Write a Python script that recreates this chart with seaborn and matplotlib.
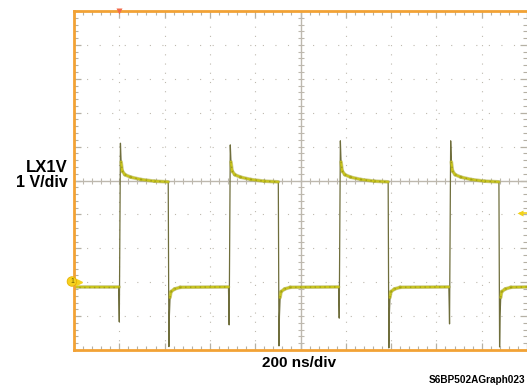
import numpy as np
import pandas as pd
import matplotlib
matplotlib.use("Agg")
import matplotlib.pyplot as plt
from matplotlib.ticker import MultipleLocator
import seaborn as sns

# ---- switch-node waveform (LX1V), 200 ns/div, 1 V/div ----
rise_ns = [205, 690, 1176, 1663]          # rising edges
fall_ns = [418, 904, 1389, 1878]          # falling edges
peak_v = [4.10, 4.05, 4.17, 4.17]         # overshoot on each rising edge
dip_v = [-1.17, -1.26, -1.06, -1.23]      # dead-time dip just before each rise
undershoot_v = [-1.90, -1.88, -1.94, -1.91]  # ringing on each falling edge
low_v = -0.14                             # low-side conduction level
high_end_v = 2.96                         # high level just before the fall

# settling after the rising edge: offset from edge (ns) / level (V)
settle_dt = [3, 8, 20, 45, 90, 150]
settle_v = [3.55, 3.28, 3.17, 3.10, 3.03, 2.98]
# recovery after the falling edge
recover_dt = [2, 5, 9, 25, 50]
recover_v = [-1.00, -0.45, -0.28, -0.20, -0.15]

t_span = 2000          # 10 div x 200 ns
v_low, v_high = -2, 8  # 10 div x 1 V, ground 2 div above bottom
trig_t = 200
trig_level = 2.04

# assemble the trace from the edge data
t, v = [0.0], [low_v]
for r, f, pk, dp, us in zip(rise_ns, fall_ns, peak_v, dip_v, undershoot_v):
    t += [r - 8, r - 5, r]
    v += [low_v, dp, pk]
    for dt, sv in zip(settle_dt, settle_v):
        t.append(r + dt); v.append(sv)
    t += [f - 2, f + 1]
    v += [high_end_v, us]
    for dt, rv in zip(recover_dt, recover_v):
        t.append(f + 1 + dt); v.append(rv)
t.append(t_span); v.append(low_v)
trace = pd.DataFrame({"t": t, "v": v})

# slow (flat) segments get the bright, thick phosphor look
flat_rows = []
for i in range(1, len(t)):
    slope = abs(v[i] - v[i - 1]) / max(t[i] - t[i - 1], 1e-9)
    if slope <= 0.08:
        flat_rows.append((t[i - 1], v[i - 1], i))
        flat_rows.append((t[i], v[i], i))
flat_df = pd.DataFrame(flat_rows, columns=["t", "v", "unit"])

sns.set_theme(style="white")
plt.rcParams["font.family"] = ["Liberation Sans", "DejaVu Sans"]

fig = plt.figure(figsize=(5.27, 3.88), dpi=100)
ax = fig.add_axes([74 / 527, 1 - 350 / 388, 1 - 74 / 527, (350 - 11) / 388])
ax.set_xlim(0, t_span)
ax.set_ylim(v_low, v_high)

ORANGE = "#F2A235"
GRID = "#BEB9AE"

# dotted graticule: dots land on every minor division
for xv in range(200, 2000, 200):
    if xv != 1000:
        ax.axvline(xv, color=GRID, lw=0.8, ls=(0, (1, 7.3)), zorder=1)
for yv in range(-1, 8):
    if yv != 3:
        ax.axhline(yv, color=GRID, lw=0.8, ls=(0, (1, 10.3)), zorder=1)

# centre crosshair with minor ticks
ax.axhline(3, color="#BDB8AE", lw=1.0, zorder=1)
ax.axvline(1000, color="#BDB8AE", lw=1.0, zorder=1)
minor_t = np.arange(0, t_span + 1, 40)
minor_v = np.arange(v_low, v_high + 0.01, 0.2)
ax.plot(minor_t, np.full_like(minor_t, 3.0, dtype=float), ls="none",
        marker="|", ms=5, mew=0.8, color="#BDB8AE", zorder=1)
ax.plot(np.full_like(minor_v, 1000.0), minor_v, ls="none",
        marker="_", ms=5, mew=0.8, color="#BDB8AE", zorder=1)

# trace: thin dark edges, bright grainy flat portions
sns.lineplot(data=trace, x="t", y="v", sort=False, estimator=None,
             color="#6F6E3C", lw=0.9, ax=ax, zorder=3)
sns.lineplot(data=flat_df, x="t", y="v", units="unit", sort=False,
             estimator=None, color="#A3A22A", lw=2.6, alpha=0.55, ax=ax,
             zorder=4)
sns.lineplot(data=flat_df, x="t", y="v", units="unit", sort=False,
             estimator=None, color="#C9C51C", lw=1.5, ax=ax, zorder=5)
sns.lineplot(data=flat_df, x="t", y="v", units="unit", sort=False,
             estimator=None, color="#6E6A18", lw=1.0, alpha=0.45,
             ls=(0, (1, 2.5)), ax=ax, zorder=6)

# frame
for side in ("top", "left", "bottom"):
    ax.spines[side].set_color(ORANGE)
    ax.spines[side].set_linewidth(2.0)
    ax.spines[side].set_zorder(7)
ax.spines["right"].set_visible(False)

ax.xaxis.set_major_locator(MultipleLocator(200))
ax.xaxis.set_minor_locator(MultipleLocator(40))
ax.yaxis.set_major_locator(MultipleLocator(1))
ax.yaxis.set_minor_locator(MultipleLocator(0.2))
ax.tick_params(which="both", direction="in", top=True, bottom=True,
               left=True, right=True, labelbottom=False, labelleft=False,
               color="#B5B0A4")
ax.tick_params(which="major", length=5, width=0.9)
ax.tick_params(which="minor", length=3, width=0.8)
ax.set_xlabel("")
ax.set_ylabel("")

# ground reference marker for channel 1
ax.annotate("1", xy=(0, 0), xycoords=("axes fraction", "data"),
            xytext=(-1.5, 0.5), textcoords="offset points",
            ha="center", va="center", fontsize=5, color="#6A5A00",
            bbox=dict(boxstyle="circle,pad=0.18", fc="#F6D21E",
                      ec="#E8B000", lw=0.6),
            annotation_clip=False, zorder=9)
ax.plot([0.012], [0], transform=ax.get_yaxis_transform(), marker=">",
        ms=4, color="#F6D21E", clip_on=False, zorder=8)

# trigger position (top) and trigger level (right edge)
ax.plot([trig_t], [v_high], marker="v", ms=4.5, color="#F26A4A",
        clip_on=False, zorder=9, mec="none")
ax.plot([0.985], [trig_level], transform=ax.get_yaxis_transform(),
        marker="<", ms=4, color="#F2D21A", clip_on=False, zorder=9,
        mec="none")
ax.plot([0.985, 1.0], [trig_level, trig_level],
        transform=ax.get_yaxis_transform(), color="#F2D21A", lw=1.2,
        clip_on=False, zorder=9)

# labels
fig.text(67.5 / 527, 1 - 172.5 / 388, "LX1V", ha="right", va="baseline",
         fontsize=12, fontweight="bold", color="black")
fig.text(67.5 / 527, 1 - 187 / 388, "1 V/div", ha="right", va="baseline",
         fontsize=11.5, fontweight="bold", color="black")
fig.text(299.5 / 527, 1 - 367 / 388, "200 ns/div", ha="center",
         va="baseline", fontsize=11, fontweight="bold", color="black")
fig.text(525 / 527, 1 - 383 / 388, "S6BP502AGraph023", ha="right",
         va="baseline", fontsize=7.2, fontweight="bold", color="black")

fig.savefig("out.png", dpi=100, facecolor="white")
